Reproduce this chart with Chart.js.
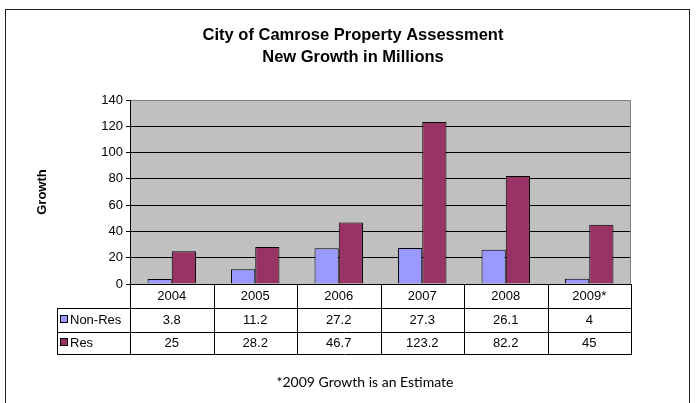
<!DOCTYPE html>
<html>
<head>
<meta charset="utf-8">
<script src="https://cdn.jsdelivr.net/npm/chart.js@4"></script>
<style>
  html, body { margin: 0; padding: 0; background: #fff; }
  #wrap { position: relative; width: 696px; height: 403px; }
</style>
</head>
<body>
<div id="wrap"><canvas id="c" width="696" height="403"></canvas></div>
<script>
// ---- data ----
const categories = ['2004', '2005', '2006', '2007', '2008', '2009*'];
const seriesNames = ['Non-Res', 'Res'];
const nonResValues = [3.8, 11.2, 27.2, 27.3, 26.1, 4];
const resValues = [25, 28.2, 46.7, 123.2, 82.2, 45];
const yMin = 0, yMax = 140, yStep = 20;
const titleLines = ['City of Camrose Property Assessment', 'New Growth in Millions'];
const yTitle = 'Growth';
const footnote = '*2009 Growth is an Estimate';

// ---- styles ----
const colors = ['#9999FF', '#993366'];
const ARIAL = '"Liberation Sans", Arial, sans-serif';
Chart.defaults.color = '#000';
Chart.defaults.font.family = ARIAL;

const decorPlugin = {
  id: 'decor',
  beforeDraw(chart) {
    const { ctx, chartArea: a } = chart;
    ctx.save();
    ctx.fillStyle = '#fff';
    ctx.fillRect(0, 0, chart.width, chart.height);
    // outer frame
    ctx.strokeStyle = '#222';
    ctx.lineWidth = 1;
    ctx.strokeRect(5.5, 9.5, 684, 420);
    // plot background
    ctx.fillStyle = '#C0C0C0';
    ctx.fillRect(a.left, a.top, a.right - a.left, a.bottom - a.top);
    ctx.restore();
  },
  afterDatasetsDraw(chart) {
    const { ctx, chartArea: a } = chart;
    ctx.save();
    ctx.strokeStyle = '#808080';
    ctx.lineWidth = 1;
    ctx.beginPath();
    ctx.moveTo(Math.round(a.right) - 0.5, a.top);
    ctx.lineTo(Math.round(a.right) - 0.5, a.bottom);
    ctx.stroke();
    ctx.restore();
  },
  afterDraw(chart) {
    const { ctx, chartArea: a } = chart;
    const xs = chart.scales.x;
    const half = (xs.getPixelForValue(1) - xs.getPixelForValue(0)) / 2;
    const edges = [];
    for (let i = 0; i < categories.length; i++) edges.push(xs.getPixelForValue(i) - half);
    edges.push(xs.getPixelForValue(categories.length - 1) + half);
    const r0 = Math.round(a.bottom), r1 = r0 + 24, r2 = r1 + 24, r3 = r2 + 22;
    const legLeft = 57;
    const px = v => Math.round(v) + 0.5;
    ctx.save();
    ctx.strokeStyle = '#000';
    ctx.lineWidth = 1;
    ctx.beginPath();
    // vertical lines
    edges.forEach((e, i) => {
      ctx.moveTo(px(e), r0);
      ctx.lineTo(px(e), r3);
    });
    ctx.moveTo(px(legLeft), r1);
    ctx.lineTo(px(legLeft), r3);
    // horizontal lines
    ctx.moveTo(edges[0], px(r0));
    ctx.lineTo(edges[edges.length - 1], px(r0));
    [r1, r2, r3].forEach(r => {
      ctx.moveTo(legLeft, px(r));
      ctx.lineTo(edges[edges.length - 1] + 1, px(r));
    });
    ctx.stroke();

    ctx.fillStyle = '#000';
    ctx.font = '13px ' + ARIAL;
    ctx.textAlign = 'center';
    ctx.textBaseline = 'middle';
    categories.forEach((c, i) => {
      const cx = xs.getPixelForValue(i);
      ctx.fillText(c, cx, (r0 + r1) / 2);
      ctx.fillText(String(nonResValues[i]), cx, (r1 + r2) / 2);
      ctx.fillText(String(resValues[i]), cx, (r2 + r3) / 2);
    });
    // legend keys
    const rows = [[r1, r2], [r2, r3]];
    seriesNames.forEach((name, k) => {
      const cy = (rows[k][0] + rows[k][1]) / 2 - 1;
      ctx.fillStyle = colors[k];
      ctx.fillRect(60.5, Math.round(cy - 4) + 0.5, 7, 7);
      ctx.strokeStyle = '#000';
      ctx.strokeRect(60.5, Math.round(cy - 4) + 0.5, 7, 7);
      ctx.fillStyle = '#000';
      ctx.textAlign = 'left';
      ctx.fillText(name, 70, cy + 1);
    });
    // footnote
    ctx.font = '14px Lato, "Open Sans", sans-serif';
    ctx.textAlign = 'center';
    ctx.fillText(footnote, 365, 382);
    ctx.restore();
  }
};

new Chart(document.getElementById('c'), {
  type: 'bar',
  data: {
    labels: categories,
    datasets: [
      { label: seriesNames[0], data: nonResValues, backgroundColor: colors[0], borderColor: '#000', borderWidth: 1 },
      { label: seriesNames[1], data: resValues, backgroundColor: colors[1], borderColor: '#000', borderWidth: 1 }
    ]
  },
  options: {
    responsive: false,
    animation: false,
    devicePixelRatio: 1,
    datasets: { bar: { categoryPercentage: 0.58, barPercentage: 1 } },
    layout: { padding: { left: 10, right: 0, top: 0, bottom: 119 } },
    plugins: {
      legend: { display: false },
      tooltip: { enabled: false },
      title: {
        display: true,
        text: titleLines,
        color: '#000',
        font: { family: ARIAL, size: 16.5, weight: 'bold', lineHeight: '22px' },
        padding: { top: 24, bottom: 32 }
      }
    },
    scales: {
      x: { type: 'category', display: false, offset: true },
      y: {
        position: 'left',
        min: yMin, max: yMax,
        ticks: { stepSize: yStep, font: { size: 13, family: ARIAL }, color: '#000', padding: 3 },
        grid: {
          color: c => (c.tick && c.tick.value === yMax ? '#808080' : '#000'),
          tickColor: '#000',
          tickLength: 4,
          lineWidth: 1
        },
        border: { color: '#000', width: 1 },
        title: { display: true, text: yTitle, color: '#000', font: { family: ARIAL, size: 13, weight: 'bold' }, padding: { top: 25, bottom: 0 } },
        afterFit(scale) { scale.width = 120; }
      },
      y2: {
        position: 'right',
        display: true,
        grid: { display: false, drawTicks: false },
        ticks: { display: false },
        border: { display: false },
        afterFit(scale) { scale.width = 65; }
      }
    }
  },
  plugins: [decorPlugin]
});
</script>
</body>
</html>
